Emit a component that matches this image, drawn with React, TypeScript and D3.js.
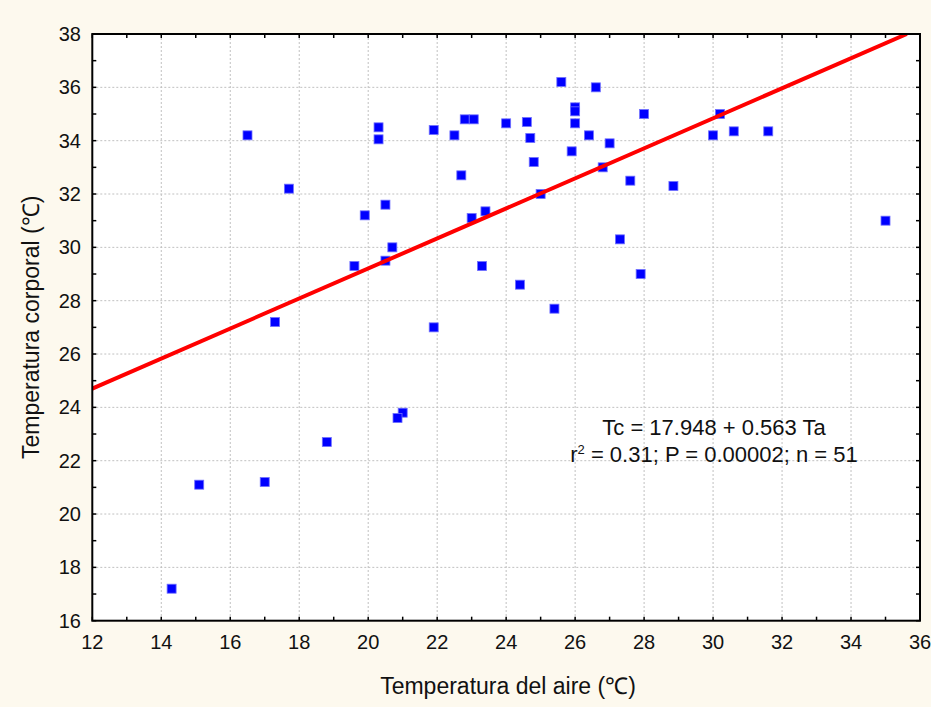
import React from "react";
import * as d3 from "d3";

const airTemp = [16.5, 17.7, 19.9, 19.6, 20.3, 20.3, 20.5, 20.7, 20.5, 21.9, 22.5, 22.8, 23.06, 22.7, 23.0, 23.4, 23.3, 24.0, 24.6, 24.7, 24.8, 25.0, 24.4, 25.4, 25.6, 26.0, 26.0, 26.0, 25.9, 26.6, 26.4, 27.0, 26.8, 27.6, 27.3, 27.9, 28.0, 28.85, 30.0, 30.2, 30.6, 31.6, 35.0, 17.3, 21.9, 21.0, 20.85, 18.8, 15.1, 17.0, 14.3];
const bodyTemp = [34.2, 32.2, 31.2, 29.3, 34.5, 34.05, 31.6, 30.0, 29.5, 34.4, 34.2, 34.8, 34.8, 32.7, 31.1, 31.35, 29.3, 34.65, 34.7, 34.1, 33.2, 32.0, 28.6, 27.7, 36.2, 35.25, 35.1, 34.65, 33.6, 36.0, 34.2, 33.9, 33.0, 32.5, 30.3, 29.0, 35.0, 32.3, 34.2, 35.0, 34.35, 34.35, 31.0, 27.2, 27.0, 23.8, 23.6, 22.7, 21.1, 21.2, 17.2];
const xTicks = [12, 14, 16, 18, 20, 22, 24, 26, 28, 30, 32, 34, 36];
const yTicks = [16, 18, 20, 22, 24, 26, 28, 30, 32, 34, 36, 38];
const intercept = 17.948;
const slope = 0.563;

export default function App() {
  const W = 931, H = 707;
  const left = 92.3, right = 920, top = 34, bottom = 620.7;
  const x = d3.scaleLinear().domain([12, 36]).range([left, right]);
  const y = d3.scaleLinear().domain([16, 38]).range([bottom, top]);
  const minorX = d3.range(12, 37, 1);
  const minorY = d3.range(16, 39, 1);
  const font = "Liberation Sans, Arial, sans-serif";
  const x0 = 12;
  const x1 = Math.min(36, (38 - intercept) / slope);
  const lineGen = d3.line<number>().x((d) => x(d)).y((d) => y(intercept + slope * d));
  const ms = 9;
  return (
    <svg width={W} height={H} style={{ display: "block", position: "absolute", left: 0, top: 0 }}>
      <rect x={0} y={0} width={W} height={H} fill="#fdf9ee" />
      <rect x={left} y={top} width={right - left} height={bottom - top} fill="#ffffff" />
      <defs>
        <clipPath id="plotclip">
          <rect x={left} y={top} width={right - left} height={bottom - top} />
        </clipPath>
      </defs>
      {xTicks.slice(1, -1).map((t) => (
        <line key={"gx" + t} x1={x(t)} x2={x(t)} y1={top} y2={bottom} stroke="#c0c0c0" strokeWidth={1} strokeDasharray="2,2" />
      ))}
      {yTicks.slice(1, -1).map((t) => (
        <line key={"gy" + t} x1={left} x2={right} y1={y(t)} y2={y(t)} stroke="#c0c0c0" strokeWidth={1} strokeDasharray="2,2" />
      ))}
      {airTemp.map((a, i) => (
        <rect key={"p" + i} x={x(a) - ms / 2} y={y(bodyTemp[i]) - ms / 2} width={ms} height={ms} fill="#0000ff" stroke="#7070ff" strokeWidth={0.8} />
      ))}
      <g clipPath="url(#plotclip)">
        <path d={lineGen([x0, x1]) || ""} stroke="#ff0000" strokeWidth={4} fill="none" />
      </g>
      {minorX.map((t) => (
        <g key={"tx" + t}>
          <line x1={x(t)} x2={x(t)} y1={bottom} y2={bottom - 4} stroke="#000" strokeWidth={1.5} />
          <line x1={x(t)} x2={x(t)} y1={top} y2={top + 4} stroke="#000" strokeWidth={1.5} />
        </g>
      ))}
      {minorY.map((t) => (
        <g key={"ty" + t}>
          <line x1={left} x2={left + 4} y1={y(t)} y2={y(t)} stroke="#000" strokeWidth={1.5} />
          <line x1={right} x2={right - 4} y1={y(t)} y2={y(t)} stroke="#000" strokeWidth={1.5} />
        </g>
      ))}
      <rect x={left} y={top} width={right - left} height={bottom - top} fill="none" stroke="#000" strokeWidth={2} />
      {xTicks.map((t) => (
        <text key={"lx" + t} x={x(t)} y={649} textAnchor="middle" fontFamily={font} fontSize={20} fill="#111">{t}</text>
      ))}
      {yTicks.map((t) => (
        <text key={"ly" + t} x={81} y={y(t) + 7} textAnchor="end" fontFamily={font} fontSize={20} fill="#111">{t}</text>
      ))}
      <text x={508} y={694} textAnchor="middle" fontFamily={font} fontSize={23} fill="#111">Temperatura del aire (℃)</text>
      <text transform={`translate(39,${(top + bottom) / 2}) rotate(-90)`} textAnchor="middle" fontFamily={font} fontSize={23} fill="#111">Temperatura corporal (℃)</text>
      <text x={714} y={435} textAnchor="middle" fontFamily={font} fontSize={22} fill="#111">Tc = 17.948 + 0.563 Ta</text>
      <text x={714} y={462} textAnchor="middle" fontFamily={font} fontSize={22} fill="#111">
        r<tspan dy={-8} fontSize={13}>2</tspan><tspan dy={8}> = 0.31; P = 0.00002; n = 51</tspan>
      </text>
    </svg>
  );
}
